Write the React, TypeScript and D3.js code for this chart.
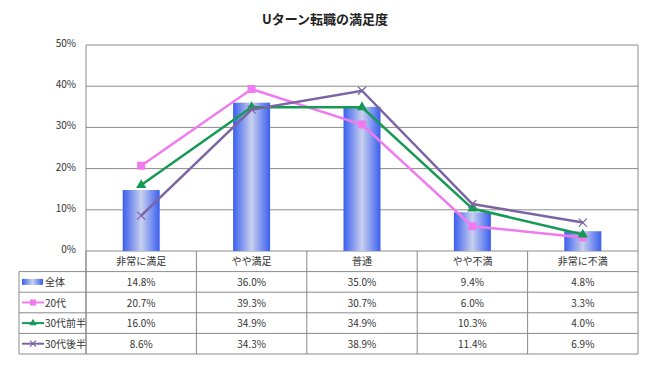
import React from "react";
import * as d3 from "d3";

const width = 650;
const height = 365;
const plotLeft = 86;
const plotRight = 638;
const plotTop = 45;
const plotBottom = 251;
const tableLeft = 19;
const rowH = 20.6;

const title = "Uターン転職の満足度";
const categories = ["非常に満足", "やや満足", "普通", "やや不満", "非常に不満"];
const allValues = [14.8, 36.0, 35.0, 9.4, 4.8];
const gen20 = [20.7, 39.3, 30.7, 6.0, 3.3];
const gen30early = [16.0, 34.9, 34.9, 10.3, 4.0];
const gen30late = [8.6, 34.3, 38.9, 11.4, 6.9];
const yTicks = [0, 10, 20, 30, 40, 50];

const lineSeries = [
  { name: "20代", values: gen20, color: "#f07af0", marker: "square" },
  { name: "30代前半", values: gen30early, color: "#159a55", marker: "triangle" },
  { name: "30代後半", values: gen30late, color: "#7b64a3", marker: "cross" },
];

const font = "'Noto Sans CJK JP', 'Noto Sans', sans-serif";

const Marker = ({ type, x, y, color, s = 4 }: { type: string; x: number; y: number; color: string; s?: number }) => {
  if (type === "square") return <rect x={x - s} y={y - s} width={s * 2} height={s * 2} fill={color} />;
  if (type === "triangle") {
    const p = d3.symbol().type(d3.symbolTriangle).size(s * s * 2.8)();
    return <path d={p || ""} transform={`translate(${x},${y})`} fill={color} />;
  }
  return (
    <g stroke={color} strokeWidth={1.2}>
      <line x1={x - s} y1={y - s} x2={x + s} y2={y + s} />
      <line x1={x - s} y1={y + s} x2={x + s} y2={y - s} />
    </g>
  );
};

export default function App() {
  const x = d3.scaleBand().domain(categories).range([plotLeft, plotRight]);
  const y = d3.scaleLinear().domain([0, 50]).range([plotBottom, plotTop]);
  const barW = 37;
  const cx = (c: string) => (x(c) as number) + x.bandwidth() / 2;
  const line = d3
    .line<number>()
    .x((_, i) => cx(categories[i]))
    .y((v) => y(v));

  const rows = [{ name: "全体", values: allValues }, ...lineSeries];
  const tableTop = plotBottom;
  const tableBottom = tableTop + rowH * (rows.length + 1);

  return (
    <svg
      width={width}
      height={height}
      style={{ position: "absolute", left: 0, top: 0, background: "#fff" }}
      fontFamily={font}
    >
      <defs>
        <linearGradient id="barGrad" x1="0" x2="1" y1="0" y2="0">
          <stop offset="0%" stopColor="#3a5ff0" />
          <stop offset="50%" stopColor="#c8d0ee" />
          <stop offset="100%" stopColor="#3a5ff0" />
        </linearGradient>
      </defs>
      <text x={325} y={24} textAnchor="middle" fontSize={13} fontWeight="bold" fill="#222">
        {title}
      </text>

      {yTicks.map((t) => (
        <g key={t}>
          <line x1={plotLeft} x2={plotRight} y1={y(t)} y2={y(t)} stroke="#8a8a8a" />
          <text x={76} y={y(t) + 2} textAnchor="end" fontSize={10} fill="#333">
            {t}%
          </text>
        </g>
      ))}
      <line x1={plotLeft} x2={plotLeft} y1={plotTop} y2={tableBottom} stroke="#8a8a8a" />
      <line x1={plotRight} x2={plotRight} y1={plotTop} y2={tableBottom} stroke="#8a8a8a" />

      {categories.map((c, i) => (
        <rect
          key={c}
          x={cx(c) - barW / 2}
          y={y(allValues[i])}
          width={barW}
          height={plotBottom - y(allValues[i])}
          fill="url(#barGrad)"
        />
      ))}

      {lineSeries.map((s) => (
        <g key={s.name}>
          <path d={line(s.values) || ""} fill="none" stroke={s.color} strokeWidth={2.5} />
          {s.values.map((v, i) => (
            <Marker key={i} type={s.marker} x={cx(categories[i])} y={y(v)} color={s.color} />
          ))}
        </g>
      ))}

      {/* data table */}
      <g stroke="#8a8a8a" strokeWidth={1}>
        {categories.map((c) => (
          <line key={c} x1={x(c) as number} x2={x(c) as number} y1={tableTop} y2={tableBottom} />
        ))}
        {rows.map((_, i) => (
          <line
            key={i}
            x1={tableLeft}
            x2={plotRight}
            y1={tableTop + rowH * (i + 1)}
            y2={tableTop + rowH * (i + 1)}
          />
        ))}
        <line x1={tableLeft} x2={plotRight} y1={tableBottom} y2={tableBottom} />
        <line x1={tableLeft} x2={tableLeft} y1={tableTop + rowH} y2={tableBottom} />
      </g>
      {categories.map((c) => (
        <text key={c} x={cx(c)} y={tableTop + rowH / 2 + 4} textAnchor="middle" fontSize={10} fill="#333">
          {c}
        </text>
      ))}
      {rows.map((r, ri) => {
        const ry = tableTop + rowH * (ri + 1) + rowH / 2;
        return (
          <g key={r.name}>
            {ri === 0 ? (
              <rect x={22} y={ry - 3} width={21} height={6} fill="url(#barGrad)" />
            ) : (
              <g>
                <line x1={22} x2={44} y1={ry} y2={ry} stroke={(r as any).color} strokeWidth={2} />
                <Marker type={(r as any).marker} x={33} y={ry} color={(r as any).color} s={3} />
              </g>
            )}
            <text x={45} y={ry + 4} fontSize={10} fill="#333">
              {r.name}
            </text>
            {r.values.map((v, i) => (
              <text key={i} x={cx(categories[i])} y={ry + 4} textAnchor="middle" fontSize={10} fill="#333">
                {v.toFixed(1)}%
              </text>
            ))}
          </g>
        );
      })}
    </svg>
  );
}
